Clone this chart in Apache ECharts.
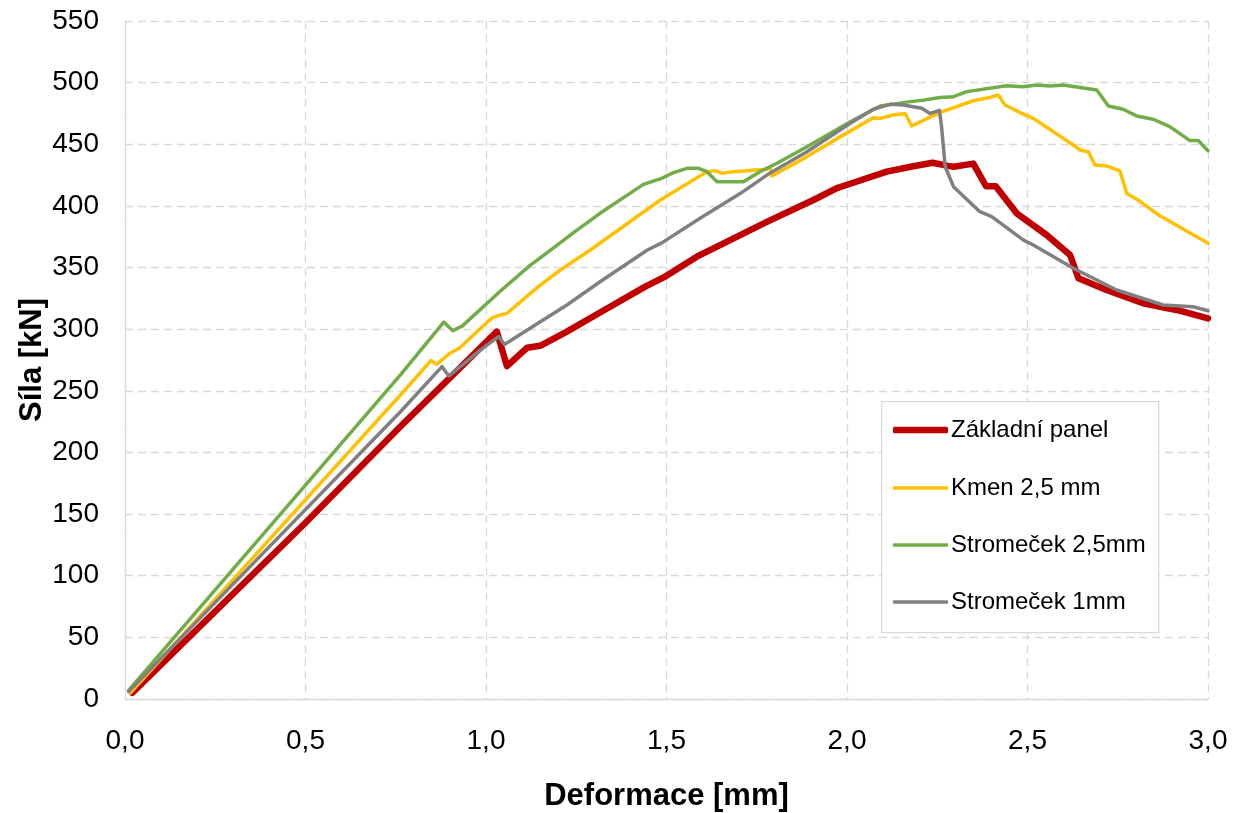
<!DOCTYPE html>
<html>
<head>
<meta charset="utf-8">
<script src="https://cdn.jsdelivr.net/npm/echarts@6/dist/echarts.min.js"></script>
<style>html,body{margin:0;padding:0;background:#fff}#c{width:1237px;height:813px}</style>
</head>
<body>
<div id="c"></div>
<script>
const seriesNames = ['Základní panel', 'Kmen 2,5 mm', 'Stromeček 2,5mm', 'Stromeček 1mm'];
const seriesColors = ['#C00000', '#FFC000', '#70AD47', '#808080'];

const zakladniPanel = [[0.02,5],[0.5,143],[0.763,221],[1.03,298],[1.058,270],[1.114,285],[1.150,286.5],[1.224,298],[1.316,313.5],[1.441,334.5],[1.492,342],[1.584,358.8],[1.686,373.7],[1.778,387],[1.907,404.8],[1.972,414.5],[2.009,418],[2.110,427.8],[2.18,432],[2.237,435],[2.28,432.5],[2.295,431.8],[2.35,434.3],[2.385,416],[2.412,416],[2.470,394],[2.553,376.4],[2.618,360.2],[2.641,341.3],[2.719,331.8],[2.820,321],[2.913,315.6],[3.0,308.8]];

const kmen25 = [[0.015,5],[0.763,246.6],[0.848,274.7],[0.863,271.4],[0.901,280.7],[0.926,284.5],[1.016,309],[1.03,310.7],[1.058,312.8],[1.145,334.5],[1.206,348],[1.289,364.2],[1.483,404.8],[1.612,427.8],[1.635,428.6],[1.653,426.5],[1.686,427.8],[1.741,429],[1.778,429.7],[1.787,431],[1.792,424.3],[1.889,440],[1.981,456],[2.073,471.6],[2.092,471],[2.128,473.8],[2.161,475],[2.179,464.8],[2.253,475.3],[2.350,485.3],[2.396,488],[2.419,490],[2.438,481.9],[2.484,475.1],[2.516,471],[2.627,449.4],[2.645,445.4],[2.668,444],[2.687,433.2],[2.719,432.4],[2.756,428.5],[2.775,410],[2.805,405],[2.867,392],[3.0,369.7]];

const stromecek25 = [[0.01,7],[0.763,263],[0.883,305.8],[0.908,298.8],[0.934,302.5],[1.040,331],[1.123,352],[1.178,364],[1.25,380],[1.316,394],[1.436,417.5],[1.487,422.4],[1.519,427],[1.557,430.5],[1.589,430.5],[1.612,427.8],[1.640,419.6],[1.713,419.6],[1.759,427.8],[1.806,434.6],[1.889,448],[2.009,468.3],[2.092,481],[2.175,484.6],[2.216,486],[2.258,488],[2.295,488.6],[2.332,492.7],[2.442,497.5],[2.488,496.7],[2.525,498],[2.562,497.3],[2.599,498],[2.692,494],[2.724,481],[2.765,478.4],[2.802,473],[2.848,470.3],[2.894,464.3],[2.950,453],[2.973,453],[3.0,444.8]];

const stromecek1 = [[0.01,6],[0.763,233],[0.878,269.6],[0.897,262],[0.984,283],[1.035,294],[1.051,287.5],[1.224,319.6],[1.316,338.5],[1.446,364],[1.487,370],[1.593,390],[1.704,410],[1.778,425],[1.889,444],[2.009,467],[2.073,478.4],[2.119,482.4],[2.156,481.9],[2.207,479.2],[2.230,475],[2.256,477.5],[2.262,464],[2.272,431.8],[2.295,415.6],[2.368,395.3],[2.401,391.3],[2.488,372.4],[2.516,368.3],[2.627,349.4],[2.747,331.8],[2.876,319.6],[2.959,318.2],[3.0,315]];

const seriesData = [zakladniPanel, kmen25, stromecek25, stromecek1];
const lineWidths = [6.5, 3.5, 3.5, 3.5];
const legendCenters = [430, 488, 545, 602];

const FONT = '"Liberation Sans", Arial, sans-serif';
const gridLine = { show: true, lineStyle: { color: '#d9d9d9', type: [8, 5], width: 1.3 } };

const legends = seriesNames.map((n, i) => ({
  orient: 'vertical', left: 893, top: legendCenters[i] - 12, padding: 0,
  icon: 'roundRect', itemWidth: 55, itemHeight: lineWidths[i],
  textStyle: { fontFamily: FONT, fontSize: 24, color: '#000', lineHeight: 24, padding: [0, 0, 0, -2] },
  data: [n], selectedMode: false, z: 20
}));

const chart = echarts.init(document.getElementById('c'), null, { renderer: 'canvas' });
chart.setOption({
  animation: false,
  backgroundColor: '#fff',
  grid: { left: 125, right: 29, top: 21, bottom: 114, containLabel: false, outerBoundsMode: 'none' },
  graphic: [{
    type: 'rect', left: 881, top: 401, z: 10,
    shape: { width: 277, height: 231 },
    style: { fill: '#fff', stroke: '#d9d9d9', lineWidth: 1.3 }
  }],
  xAxis: {
    type: 'value', min: 0, max: 3, interval: 0.5,
    name: 'Deformace [mm]', nameLocation: 'middle', nameGap: 82, nameMoveOverlap: false,
    nameTextStyle: { fontFamily: FONT, fontSize: 31, fontWeight: 'bold', color: '#000' },
    axisLine: { show: true, lineStyle: { color: '#d9d9d9', width: 1.3 } },
    axisTick: { show: false },
    axisLabel: { fontFamily: FONT, fontSize: 28, color: '#000', margin: 28,
      formatter: v => v.toFixed(1).replace('.', ',') },
    splitLine: gridLine
  },
  yAxis: {
    type: 'value', min: 0, max: 550, interval: 50,
    name: 'Síla [kN]', nameLocation: 'middle', nameGap: 77, nameMoveOverlap: false,
    nameTextStyle: { fontFamily: FONT, fontSize: 31, fontWeight: 'bold', color: '#000' },
    axisLine: { show: true, lineStyle: { color: '#d9d9d9', width: 1.3 } },
    axisTick: { show: false },
    axisLabel: { fontFamily: FONT, fontSize: 28, color: '#000', margin: 26 },
    splitLine: gridLine
  },
  legend: legends,
  series: seriesData.map((d, i) => ({
    name: seriesNames[i], type: 'line', data: d,
    showSymbol: false, symbol: 'none',
    lineStyle: { color: seriesColors[i], width: lineWidths[i], cap: 'round', join: 'round' },
    itemStyle: { color: seriesColors[i] },
    z: 2 + i
  }))
});
</script>
</body>
</html>
